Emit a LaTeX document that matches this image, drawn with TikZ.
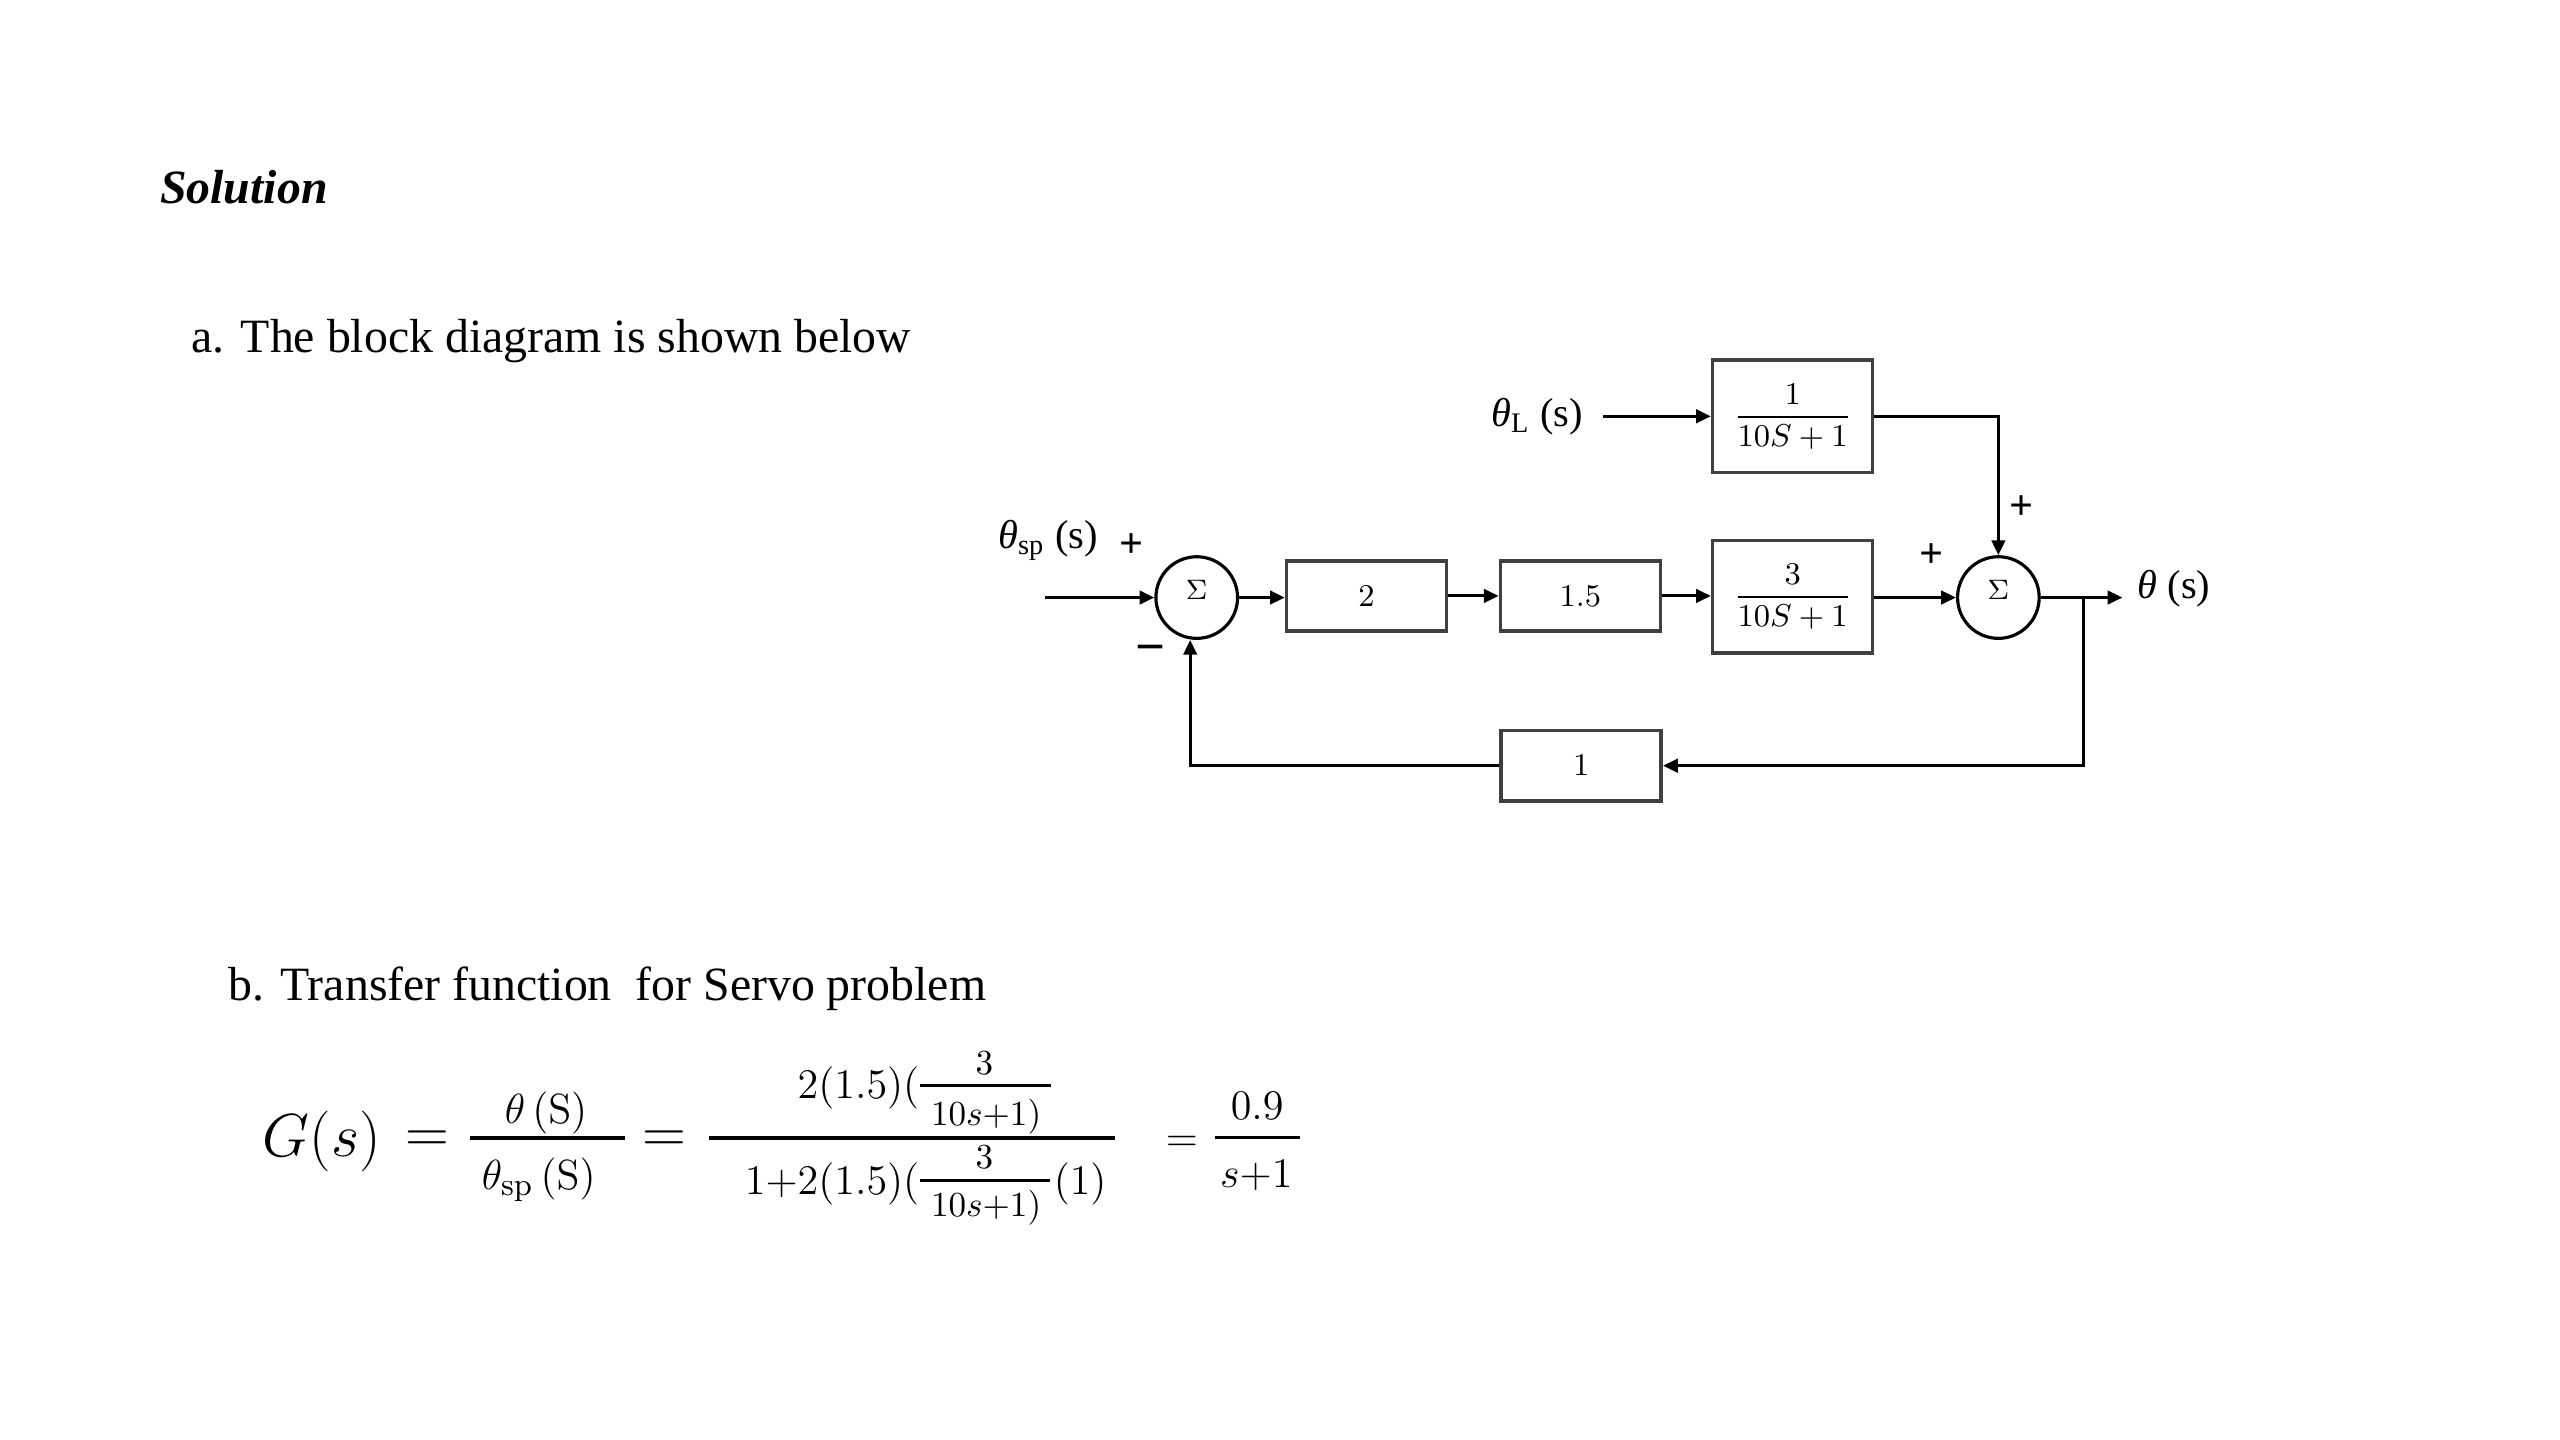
\documentclass[tikz,border=0pt]{standalone}
\usepackage[no-math]{fontspec}
\setmainfont{Liberation Serif}
\usepackage{amsmath}
\usetikzlibrary{arrows.meta}
\newcommand{\uu}{0.0163265cm}
\begin{document}
\begin{tikzpicture}[x=\uu, y=-\uu,
  ln/.style={line width=0.9pt},
  arr/.style={ln, -{Triangle[length=4.2pt,width=3.8pt]}},
  blk/.style={draw=black!75, line width=1pt, inner sep=0pt, minimum width={98*\uu}, font=\fontsize{9}{10}\selectfont},
  sblk/.style={blk, minimum height={43*\uu}},
  tblk/.style={blk, minimum height={69*\uu}},
  sumn/.style={circle, draw=black, line width=0.9pt, minimum size={50*\uu}, inner sep=0pt, font=\fontsize{8}{9}\selectfont, text height=5.5pt, text depth=4.6pt},
  lbl/.style={font=\fontsize{11.5}{13}\selectfont, inner sep=0pt},
  sgn/.style={font=\fontsize{12}{13}\selectfont\bfseries, inner sep=0pt},
  body/.style={font=\fontsize{13.6}{16}\selectfont, inner sep=0pt},
  eqbig/.style={font=\fontsize{16}{18}\selectfont, inner sep=0pt},
  eqmid/.style={font=\fontsize{13}{15}\selectfont, inner sep=0pt},
  eqsm/.style={font=\fontsize{10}{11}\selectfont, inner sep=0pt},
  bar/.style={line width=0.9pt},
  sbar/.style={line width=0.7pt}
]
\fill[white] (0,0) rectangle (1568,882);

% headings
\node[body, anchor=base west, font=\fontsize{13.6}{16}\selectfont\bfseries\itshape] (sol) at (97.7,124.6) {Solution};
\node[body, anchor=base west] (ta) at (117,216) {a. The block diagram is shown below};
\node[body, anchor=base west] (tb) at (139.6,612.5) {b. Transfer function~ for Servo problem};

% block diagram
\node[sumn] (s1) at (733,366) {$\Sigma$};
\node[sumn] (s2) at (1224,366) {$\Sigma$};
\node[sblk] (b2) at (837,365) {$2$};
\node[sblk] (b15) at (968,365) {$1.5$};
\node[tblk] (b3) at (1098,365.5) {$\genfrac{}{}{0.6pt}{0}{3}{10S+1}$};
\node[tblk] (bt) at (1098,255) {$\genfrac{}{}{0.6pt}{0}{1}{10S+1}$};
\node[sblk] (fb) at (968.5,469) {$1$};

\node[lbl, anchor=base west] (thL) at (913,261) {\textit{θ}\textsubscript{L} (s)};
\node[lbl, anchor=base west] (thsp) at (611,336) {\textit{θ}\textsubscript{sp} (s)};
\node[lbl, anchor=base west] (tho) at (1309,366.5) {\textit{θ} (s)};

\node[sgn] (p1) at (693,334) {+};
\node[sgn, font=\fontsize{15}{16}\selectfont\bfseries] (m1) at (704.5,401) {−};
\node[sgn] (p2) at (1183,340) {+};
\node[sgn] (p3) at (1238,311) {+};

\coordinate (inL) at (982,255);
\coordinate (in) at (640,366);
\coordinate (br) at (1276,366);
\coordinate (out) at (1300,366);

\draw[arr] (inL) -- (bt.west);
\draw[arr] (bt.east) -| (s2.north);
\draw[arr] (in) -- (s1.west);
\draw[arr] (s1.east) -- (s1.east -| b2.west);
\draw[arr] (b2.east) -- (b15.west);
\draw[arr] (b15.east) -- (b15.east -| b3.west);
\draw[arr] (b3.east |- s2.west) -- (s2.west);
\draw[arr] (s2.east) -- (out);
\draw[arr] (br) |- (fb.east);
\draw[arr] (fb.west) -| ([xshift={-4*\uu}]s1.south);

% equation
\node[eqbig, anchor=base] (G) at (197,708.6) {$G(s)$};
\node[eqbig, anchor=base] (eq1) at (262,705.7) {$=$};
\node[eqmid, anchor=base] (n1) at (334.5,688) {$\theta\,(\mathrm{S})$};
\node[eqmid, anchor=base] (d1) at (330,728.6) {$\theta_{\mathrm{sp}}\,(\mathrm{S})$};
\draw[bar] (288,697) -- (383,697);
\node[eqbig, anchor=base] (eq2) at (407,705.7) {$=$};
\draw[bar] (434,697) -- (683,697);
\node[eqmid, anchor=base east] (n2a) at (563.5,673) {$2(1.5)($};
\draw[sbar] (563.5,665) -- (644,665);
\node[eqsm, anchor=base] (n2b) at (603,658) {$3$};
\node[eqsm, anchor=base] (n2c) at (604,689.4) {$10s{+}1)$};
\node[eqmid, anchor=base east] (d2a) at (563.5,731.6) {$1{+}2(1.5)($};
\draw[sbar] (563.5,723) -- (643,723);
\node[eqsm, anchor=base] (d2b) at (603,716) {$3$};
\node[eqsm, anchor=base] (d2c) at (604,745.4) {$10s{+}1)$};
\node[eqmid, anchor=base west] (d2d) at (645,731.6) {$(1)$};
\node[eqmid, anchor=base] (eq3) at (724,705) {$=$};
\draw[bar] (744,696.5) -- (796,696.5);
\node[eqmid, anchor=base] (n3) at (770,686) {$0.9$};
\node[eqmid, anchor=base] (d3) at (769.5,727.5) {$s{+}1$};
\end{tikzpicture}
\end{document}
